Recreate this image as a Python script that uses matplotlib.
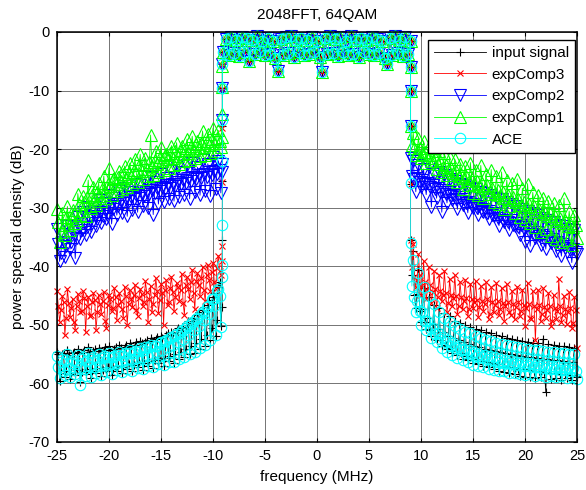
import matplotlib.pyplot as plt

plt.rcParams['font.family'] = ['Liberation Sans', 'DejaVu Sans']
plt.rcParams['axes.unicode_minus'] = False

# frequency grids, MHz
f_left = [-25 + 0.25 * k for k in range(64)]       # -25 ... -9.25
f_left_b = [-24.875 + 0.25 * k for k in range(64)]  # half-bin points
f_right_b = [9.125 + 0.25 * k for k in range(64)]
f_right = [9.25 + 0.25 * k for k in range(64)]      # 9.25 ... 25
f_in = [-9 + 0.25 * k for k in range(73)]           # -9 ... 9
f_edge_l = -9.1
f_edge_r = 9.0

# in-band PSD (dB), same signal for every method
psd_in = [-3.4, -1.2, -3.9, -0.9, -3.6, -1.4, -4.1, -0.8, -3.5, -1.1,
          -5.0, -1.3, -3.8, -0.7, -3.3, -1.5, -4.0, -1.0, -3.7, -1.6,
          -4.4, -6.6, -1.2, -3.9, -0.9, -3.6, -0.6, -4.2, -1.3, -3.4,
          -1.0, -4.0, -1.4, -3.7, -0.8, -3.5, -1.6, -4.3, -6.9, -1.1,
          -3.8, -0.7, -3.6, -1.2, -4.1, -0.9, -3.4, -1.5, -3.9, -0.6,
          -3.7, -1.3, -4.2, -1.0, -3.5, -1.4, -3.8, -0.8, -4.0, -1.2,
          -3.6, -1.5, -4.4, -5.4, -1.1, -3.9, -0.7, -3.6, -1.3, -4.1,
          -0.9, -3.7, -1.6]

# input signal
inp_left = [-54.6, -59.6, -55.1, -58.9, -54.4, -59.3, -54.9, -58.6, -54.2, -59.8,
            -54.7, -58.4, -53.9, -59.1, -54.5, -58.2, -54.0, -58.8, -54.3, -58.0,
            -53.7, -58.6, -54.1, -57.9, -53.5, -58.3, -53.8, -57.6, -53.2, -58.0,
            -53.4, -57.3, -52.8, -57.8, -52.9, -57.0, -52.3, -57.4, -52.5, -56.6,
            -51.9, -57.0, -51.8, -56.2, -51.2, -56.5, -50.9, -55.8, -50.4, -55.6,
            -49.8, -55.1, -49.1, -54.8, -48.3, -54.1, -47.5, -53.6, -46.6, -52.7,
            -45.2, -52.0, -43.6, -50.2]
inp_left_b = [-55.0, -58.2, -54.8, -57.9, -55.2, -58.5, -54.6, -57.7, -54.9, -58.1,
              -54.3, -57.6, -54.7, -57.9, -54.2, -57.4, -54.5, -57.7, -53.9, -57.2,
              -54.3, -57.5, -53.8, -57.0, -54.0, -57.2, -53.4, -56.8, -53.7, -56.9,
              -53.0, -56.5, -53.2, -56.6, -52.6, -56.2, -52.8, -56.1, -52.1, -55.8,
              -52.2, -55.7, -51.5, -55.3, -51.4, -55.0, -50.6, -54.6, -50.5, -54.2,
              -49.4, -53.7, -48.9, -53.1, -47.8, -52.4, -47.0, -51.7, -45.8, -50.6,
              -44.6, -49.2, -42.8, -47.0]
inp_edge_l = [-35.5, -25.5, -16.0, -9.5, -5.5]
inp_edge_r = [-6.0, -10.0, -16.0, -26.0, -35.6]
inp_right_b = [-41.5, -45.0, -44.8, -47.6, -47.3, -49.6, -48.8, -50.9, -49.9, -51.9,
               -50.7, -52.7, -51.3, -53.4, -51.9, -54.0, -52.3, -54.5, -52.7, -54.9,
               -53.0, -55.3, -53.3, -55.6, -53.6, -55.9, -53.8, -56.2, -54.1, -56.4,
               -54.3, -56.6, -54.5, -56.8, -54.7, -57.0, -54.9, -57.2, -55.0, -57.3,
               -55.2, -57.5, -55.3, -57.6, -55.5, -57.7, -55.6, -57.9, -55.7, -58.0,
               -55.8, -58.1, -55.9, -58.2, -56.0, -58.3, -56.1, -58.4, -56.2, -58.5,
               -56.3, -58.6, -56.4, -58.7]
inp_right = [-37.5, -47.2, -40.6, -49.6, -43.8, -50.8, -45.2, -51.9, -46.6, -52.6,
             -47.1, -53.6, -48.0, -54.1, -48.6, -54.9, -49.3, -55.2, -49.7, -55.8,
             -50.1, -56.1, -50.4, -56.5, -50.8, -56.8, -51.0, -57.1, -51.3, -57.3,
             -51.5, -57.6, -51.8, -57.9, -52.0, -58.1, -52.2, -58.3, -52.4, -58.5,
             -52.6, -58.7, -52.8, -58.9, -52.9, -59.0, -53.1, -59.2, -53.2, -59.0,
             -52.4, -61.5, -53.3, -59.3, -53.5, -59.1, -53.6, -59.4, -53.7, -59.2,
             -53.8, -59.5, -54.0, -58.9]

# expComp3
ec3_left = [-44.2, -49.5, -45.1, -51.8, -43.9, -48.7, -45.6, -50.9, -44.8, -47.9,
            -44.3, -51.3, -45.2, -48.4, -44.6, -51.0, -45.0, -48.1, -44.4, -50.6,
            -44.9, -47.6, -43.8, -49.2, -44.6, -47.3, -43.5, -50.1, -44.1, -47.0,
            -43.2, -48.5, -43.9, -46.8, -42.6, -49.6, -43.4, -46.5, -42.1, -48.0,
            -43.0, -50.0, -42.4, -46.2, -41.8, -47.7, -42.9, -45.9, -41.3, -48.3,
            -41.9, -45.6, -40.6, -47.4, -41.2, -45.1, -40.1, -46.0, -39.8, -44.2,
            -39.4, -43.9, -38.2, -41.5]
ec3_left_b = [-46.8, -47.5, -46.1, -48.9, -46.3, -47.2, -49.6, -46.9, -46.0, -47.7,
              -45.5, -46.8, -48.6, -46.2, -45.8, -47.9, -46.4, -45.9, -49.3, -46.6,
              -45.6, -47.1, -45.3, -46.7, -45.9, -48.8, -45.1, -46.4, -45.6, -45.0,
              -47.5, -45.4, -44.8, -46.1, -44.5, -45.7, -47.9, -44.9, -44.2, -45.8,
              -44.6, -44.0, -46.7, -43.7, -44.4, -45.2, -43.6, -44.1, -46.3, -43.2,
              -43.9, -42.8, -44.6, -42.5, -43.3, -42.0, -44.1, -41.6, -42.3, -41.0,
              -42.7, -40.3, -40.8, -39.2]
ec3_edge_l = [-36.5, -25.6, -16.4, -9.8, -5.6]
ec3_edge_r = [-6.0, -10.0, -16.0, -26.0, -35.6]
ec3_right_b = [-40.2, -41.8, -42.3, -41.5, -43.6, -42.8, -44.1, -43.2, -44.5, -43.9,
               -45.2, -44.3, -45.0, -44.6, -46.3, -44.9, -45.5, -45.1, -46.8, -45.3,
               -45.9, -45.5, -47.4, -45.6, -46.1, -45.8, -47.0, -46.0, -46.4, -45.7,
               -48.1, -46.2, -46.6, -45.9, -47.3, -46.3, -46.8, -46.1, -48.4, -46.5,
               -47.0, -46.2, -47.6, -46.7, -47.2, -46.4, -49.0, -46.9, -47.4, -46.6,
               -48.1, -47.0, -47.5, -46.8, -49.3, -47.2, -47.7, -46.9, -48.4, -47.3,
               -47.9, -47.1, -49.8, -47.5]
ec3_right = [-36.3, -43.6, -38.0, -44.9, -39.2, -45.7, -40.1, -46.3, -40.9, -47.1,
             -41.5, -46.0, -40.8, -47.8, -42.2, -46.9, -41.6, -48.2, -42.7, -47.4,
             -42.3, -48.5, -43.0, -47.2, -42.5, -48.7, -43.4, -47.6, -42.8, -49.0,
             -43.6, -47.9, -42.9, -48.4, -43.8, -49.3, -43.1, -47.8, -44.2, -49.1,
             -43.5, -48.6, -44.0, -50.2, -42.9, -48.9, -44.3, -52.6, -44.1, -49.4,
             -43.8, -48.8, -44.6, -50.3, -44.9, -49.0, -42.2, -49.6, -45.1, -49.9,
             -44.5, -50.6, -45.3, -54.0]

# expComp2
ec2_left = [-33.6, -39.2, -34.5, -38.4, -33.2, -37.1, -32.4, -38.7, -31.6, -35.4,
            -30.8, -34.6, -29.9, -34.2, -30.5, -33.1, -28.7, -32.6, -29.3, -32.0,
            -27.8, -32.8, -28.4, -31.3, -27.1, -30.9, -26.6, -31.5, -27.4, -30.4,
            -25.9, -30.8, -26.2, -29.7, -25.4, -30.1, -24.8, -31.2, -25.6, -29.4,
            -24.3, -29.0, -24.9, -28.6, -23.8, -28.9, -23.2, -28.2, -24.0, -27.8,
            -22.7, -28.5, -22.3, -27.4, -23.1, -27.9, -21.8, -27.2, -22.5, -28.1,
            -21.4, -26.8, -22.0, -27.5]
ec2_left_b = [-36.2, -37.8, -35.9, -36.6, -35.1, -35.8, -34.6, -35.2, -33.4, -33.9,
              -32.7, -33.3, -32.1, -32.6, -31.5, -31.9, -30.8, -31.4, -30.4, -30.9,
              -29.9, -30.3, -29.4, -29.8, -28.9, -29.3, -28.5, -28.9, -28.2, -28.6,
              -27.9, -28.3, -27.6, -28.0, -27.3, -27.7, -27.0, -27.5, -26.7, -27.1,
              -26.4, -26.9, -26.1, -26.6, -25.9, -26.3, -25.6, -26.0, -25.3, -25.8,
              -25.0, -25.5, -24.8, -25.2, -24.5, -25.0, -24.2, -24.7, -24.0, -24.5,
              -23.8, -24.2, -23.6, -24.0]
ec2_edge_l = [-22.5, -15.0, -9.6, -5.4]
ec2_edge_r = [-6.0, -10.0, -16.0, -21.5]
ec2_right_b = [-24.6, -25.1, -24.9, -25.6, -25.3, -26.0, -25.8, -26.5, -26.2, -26.9,
               -26.6, -27.3, -27.0, -27.7, -27.4, -28.1, -27.8, -28.5, -28.2, -28.9,
               -28.6, -29.3, -29.0, -29.7, -29.4, -30.1, -29.8, -30.5, -30.2, -30.9,
               -30.6, -31.3, -31.0, -31.7, -31.4, -32.1, -31.8, -32.5, -32.2, -32.9,
               -32.6, -33.3, -33.0, -33.7, -33.4, -34.1, -33.8, -34.5, -34.2, -34.9,
               -34.6, -35.3, -35.0, -35.7, -35.4, -36.1, -35.8, -36.5, -36.2, -36.9,
               -36.6, -37.3, -37.0, -37.6]
ec2_right = [-22.0, -27.3, -22.8, -26.5, -23.4, -27.8, -23.1, -29.9, -24.2, -28.4,
             -23.9, -30.8, -24.5, -29.2, -25.1, -28.7, -25.4, -30.3, -25.9, -29.6,
             -26.2, -30.9, -26.6, -30.1, -26.8, -31.2, -27.3, -30.7, -27.5, -32.0,
             -27.9, -31.5, -28.3, -33.1, -28.6, -32.5, -29.0, -33.9, -29.4, -33.2,
             -29.8, -34.6, -30.2, -35.8, -30.5, -36.6, -31.0, -35.2, -31.3, -36.4,
             -31.8, -37.1, -32.1, -36.0, -32.5, -37.5, -32.9, -38.3, -33.2, -37.6,
             -33.6, -39.4, -33.9, -38.0]

# expComp1
ec1_left = [-30.2, -35.8, -31.0, -34.6, -29.8, -33.9, -30.4, -32.7, -27.6, -31.2,
            -28.1, -31.5, -25.3, -30.0, -26.4, -29.6, -25.8, -28.9, -24.6, -28.3,
            -23.2, -27.9, -24.9, -27.2, -23.8, -26.8, -22.9, -26.5, -22.4, -25.9,
            -21.7, -25.6, -20.9, -25.2, -21.5, -24.6, -17.6, -24.4, -20.3, -23.9,
            -19.6, -23.5, -20.8, -23.2, -19.4, -22.8, -18.9, -22.6, -19.5, -22.1,
            -18.3, -21.9, -17.8, -21.6, -18.6, -21.2, -16.9, -21.0, -17.4, -20.6,
            -16.4, -20.3, -16.8, -19.7]
ec1_left_b = [-32.4, -34.1, -32.9, -31.6, -33.0, -31.8, -30.9, -32.1, -29.4, -30.6,
              -29.0, -28.2, -29.7, -27.8, -28.6, -27.3, -28.0, -26.5, -27.4, -25.9,
              -26.3, -25.1, -26.0, -24.7, -25.5, -24.2, -25.0, -23.9, -24.6, -23.5,
              -24.1, -22.8, -23.7, -22.6, -23.4, -22.2, -22.9, -21.8, -22.5, -21.4,
              -22.1, -21.0, -21.7, -20.7, -21.5, -20.4, -21.2, -20.1, -20.9, -19.8,
              -20.6, -19.5, -20.2, -19.2, -19.9, -18.9, -19.6, -18.6, -19.3, -18.3,
              -19.0, -18.1, -18.7, -17.9]
ec1_edge_l = [-14.0, -9.4, -5.8]
ec1_edge_r = [-6.0, -10.0, -16.0]
ec1_right_b = [-19.3, -19.8, -20.4, -19.9, -20.9, -20.5, -21.5, -21.0, -22.0, -21.6,
               -22.6, -22.1, -23.1, -22.7, -23.6, -23.2, -24.1, -23.7, -24.6, -24.2,
               -25.0, -24.6, -25.5, -25.1, -25.9, -25.4, -26.3, -25.8, -26.7, -26.2,
               -27.1, -26.6, -27.5, -27.0, -27.9, -27.4, -28.3, -27.8, -28.7, -28.2,
               -29.1, -28.6, -29.5, -29.0, -29.9, -29.4, -30.3, -29.8, -30.7, -30.2,
               -31.1, -30.6, -31.5, -31.0, -31.9, -31.4, -32.3, -31.8, -32.7, -32.2,
               -33.1, -32.6, -33.4, -33.0]
ec1_right = [-17.2, -21.0, -18.1, -21.6, -18.6, -22.3, -19.4, -22.0, -19.9, -23.4,
             -20.3, -24.0, -20.6, -24.5, -21.4, -25.1, -21.7, -25.6, -22.5, -26.8,
             -22.9, -26.1, -22.3, -27.5, -23.6, -27.9, -22.8, -28.3, -24.2, -27.7,
             -23.5, -29.0, -24.6, -29.4, -23.9, -30.2, -25.3, -29.8, -25.8, -31.0,
             -25.1, -31.6, -26.7, -32.2, -25.9, -32.7, -27.4, -33.4, -27.9, -34.1,
             -28.3, -33.6, -28.8, -34.8, -29.2, -35.3, -29.6, -35.9, -28.4, -35.5,
             -30.6, -36.4, -31.2, -35.2]

# ACE
ace_left = [-55.3, -59.2, -55.8, -58.6, -55.1, -59.0, -56.0, -58.4, -55.2, -60.3,
            -55.6, -58.7, -54.8, -58.9, -55.5, -58.3, -55.0, -58.6, -55.4, -58.1,
            -54.9, -58.4, -55.3, -57.8, -54.6, -58.1, -54.9, -57.6, -54.3, -57.9,
            -54.5, -57.4, -54.0, -57.6, -53.9, -57.1, -53.4, -57.3, -53.6, -56.8,
            -53.0, -56.9, -52.7, -56.3, -52.1, -56.4, -51.6, -55.9, -51.0, -55.6,
            -50.3, -55.0, -49.6, -54.6, -48.8, -54.0, -47.9, -53.4, -46.9, -52.6,
            -45.6, -51.8, -43.9, -50.4]
ace_left_b = [-57.2, -56.4, -58.0, -56.1, -57.5, -56.6, -57.8, -56.3, -57.4, -55.9,
              -57.6, -56.2, -57.1, -55.8, -57.3, -56.0, -57.0, -55.7, -56.9, -55.5,
              -56.7, -55.6, -56.5, -55.2, -56.4, -55.3, -56.1, -54.9, -55.9, -54.8,
              -55.7, -54.5, -55.5, -54.3, -55.2, -53.9, -55.0, -53.6, -54.6, -53.2,
              -54.3, -52.8, -53.9, -52.3, -53.4, -51.8, -52.9, -51.2, -52.4, -50.6,
              -51.7, -49.9, -51.0, -49.0, -50.2, -48.1, -49.2, -47.0, -48.1, -45.6,
              -46.8, -44.2, -45.1, -41.8]
ace_edge_l = [-39.8, -33.0, -22.0, -15.0, -9.5, -5.5]
ace_edge_r = [-6.0, -10.0, -16.0, -25.8, -36.0]
ace_right_b = [-43.4, -45.3, -46.0, -47.7, -47.9, -49.4, -49.3, -50.6, -50.5, -51.6,
               -51.4, -52.4, -52.1, -53.0, -52.7, -53.6, -53.2, -54.0, -53.7, -54.4,
               -54.1, -54.8, -54.4, -55.1, -54.7, -55.4, -55.0, -55.6, -55.2, -55.9,
               -55.4, -56.1, -55.6, -56.3, -55.8, -56.5, -56.0, -56.6, -56.1, -56.8,
               -56.3, -56.9, -56.4, -57.0, -56.5, -57.1, -56.6, -57.2, -56.7, -57.3,
               -56.8, -57.4, -56.9, -57.5, -57.0, -57.6, -57.1, -57.7, -57.2, -57.8,
               -57.3, -57.9, -57.4, -58.0]
ace_right = [-39.0, -47.9, -41.2, -50.1, -43.5, -51.0, -45.1, -52.2, -46.5, -52.9,
             -47.8, -54.0, -48.9, -54.6, -49.6, -55.2, -50.3, -55.7, -50.8, -56.0,
             -51.2, -56.4, -51.5, -56.9, -51.9, -57.0, -52.2, -57.3, -52.6, -57.5,
             -52.8, -57.7, -53.1, -57.9, -53.3, -58.0, -53.5, -58.2, -53.7, -58.3,
             -53.9, -58.4, -54.0, -58.6, -54.1, -58.5, -54.3, -58.8, -54.4, -58.6,
             -54.5, -58.9, -54.6, -58.7, -54.7, -59.0, -54.8, -58.8, -54.9, -59.1,
             -55.0, -58.9, -55.1, -59.3]


def interleave(a, b):
    out = []
    for u, v in zip(a, b):
        out += [u, v]
    return out


def spectrum(left, left_b, edge_l, edge_r, right_b, right):
    f = (interleave(f_left, f_left_b) + [f_edge_l] * len(edge_l) + f_in
         + [f_edge_r] * len(edge_r) + interleave(f_right_b, f_right))
    p = (interleave(left, left_b) + edge_l + psd_in + edge_r
         + interleave(right_b, right))
    return f, p


series = [
    ('input signal', '#000000', '+', 6,
     spectrum(inp_left, inp_left_b, inp_edge_l, inp_edge_r, inp_right_b, inp_right)),
    ('expComp3', '#ff0000', 'x', 4.5,
     spectrum(ec3_left, ec3_left_b, ec3_edge_l, ec3_edge_r, ec3_right_b, ec3_right)),
    ('expComp2', '#0000ff', 'v', 8.5,
     spectrum(ec2_left, ec2_left_b, ec2_edge_l, ec2_edge_r, ec2_right_b, ec2_right)),
    ('expComp1', '#00ff00', '^', 8.5,
     spectrum(ec1_left, ec1_left_b, ec1_edge_l, ec1_edge_r, ec1_right_b, ec1_right)),
    ('ACE', '#00ffff', 'o', 7.5,
     spectrum(ace_left, ace_left_b, ace_edge_l, ace_edge_r, ace_right_b, ace_right)),
]

fig = plt.figure(figsize=(5.86, 4.9), dpi=100)
ax = fig.add_axes([0.0973, 0.0986, 0.8873, 0.8361])

for name, col, mk, ms, (f, p) in series:
    ax.plot(f, p, color=col, marker=mk, markersize=ms, markerfacecolor='none',
            markeredgewidth=0.8, linewidth=0.6, label=name, clip_on=False)

ax.set_xlim(-25, 25)
ax.set_ylim(-70, 0)
ax.set_xticks(range(-25, 26, 5))
ax.set_yticks(range(-70, 1, 10))
ax.grid(True, color='0.45', linewidth=0.7)
ax.set_axisbelow(True)
ax.tick_params(direction='in', top=True, right=True, length=3, width=0.8,
               labelsize=10.5, pad=5)
for s in ax.spines.values():
    s.set_linewidth(1.1)
    s.set_zorder(5)

ax.set_title('2048FFT, 64QAM', fontsize=11, pad=9)
ax.set_xlabel('frequency (MHz)', fontsize=11, labelpad=5)
ax.set_ylabel('power spectral density (dB)', fontsize=11, labelpad=3)

leg = ax.legend(loc='upper right', bbox_to_anchor=(0.996, 0.9805), borderaxespad=0,
                fancybox=False, framealpha=1, edgecolor='k',
                handlelength=3.4, labelspacing=0.5, handletextpad=0.35,
                borderpad=0.4, fontsize=11)
leg.get_frame().set_linewidth(1.0)
leg.set_zorder(10)

fig.savefig('out.png', dpi=100)
